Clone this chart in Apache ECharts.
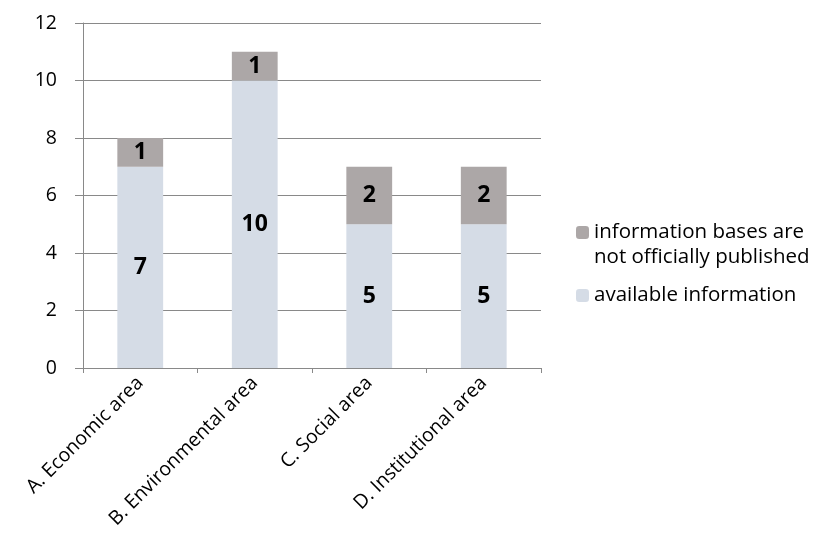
<!DOCTYPE html>
<html><head><meta charset="utf-8">
<script src="https://cdn.jsdelivr.net/npm/echarts@6/dist/echarts.min.js"></script>
<style>html,body{margin:0;padding:0;background:#fff}#c{width:824px;height:536px}</style>
</head><body><div id="c"></div>
<script>
const categories = ['A. Economic area','B. Environmental area','C. Social area','D. Institutional area'];
const available = [7, 10, 5, 5];
const notPublished = [1, 1, 2, 2];
const seriesNames = ['available information', 'information bases are not officially published'];
// leading blank line keeps the first text line aligned with the legend square
const legendLabels = {'information bases are not officially published':' \ninformation bases are\nnot officially published','available information':'available information'};
const FONT = '"Open Sans", sans-serif';
const chart = echarts.init(document.getElementById('c'));
const lbl = {show:true, position:'inside', color:'#000', fontWeight:'bold', fontSize:23, fontFamily:FONT};
chart.setOption({
  animation:false,
  grid:{left:83, right:283, top:23, bottom:168},
  legend:{
    orient:'vertical', left:571, top:190, itemWidth:13, itemHeight:13, itemGap:13,
    data:[seriesNames[1], seriesNames[0]],
    formatter: n => legendLabels[n],
    textStyle:{fontSize:20.5, fontFamily:FONT, color:'#000', lineHeight:25}
  },
  xAxis:{type:'category', data:categories,
    axisLine:{lineStyle:{color:'#898989'}},
    axisTick:{show:true, length:5, lineStyle:{color:'#898989'}},
    axisLabel:{rotate:45, fontSize:19.5, fontFamily:FONT, color:'#000', margin:12, interval:0}
  },
  yAxis:{type:'value', min:0, max:12, interval:2,
    axisLine:{show:true, lineStyle:{color:'#898989'}},
    axisTick:{show:true, length:8, lineStyle:{color:'#898989'}},
    splitLine:{lineStyle:{color:'#898989'}},
    axisLabel:{fontSize:19.5, fontFamily:FONT, color:'#000', margin:26}
  },
  series:[
    {name:seriesNames[0], type:'bar', stack:'s', data:available, barCategoryGap:'60%',
     itemStyle:{color:'#d5dce6'}, label:lbl},
    {name:seriesNames[1], type:'bar', stack:'s', data:notPublished, barCategoryGap:'60%',
     itemStyle:{color:'#aca7a7'}, label:lbl}
  ]
});
</script></body></html>
